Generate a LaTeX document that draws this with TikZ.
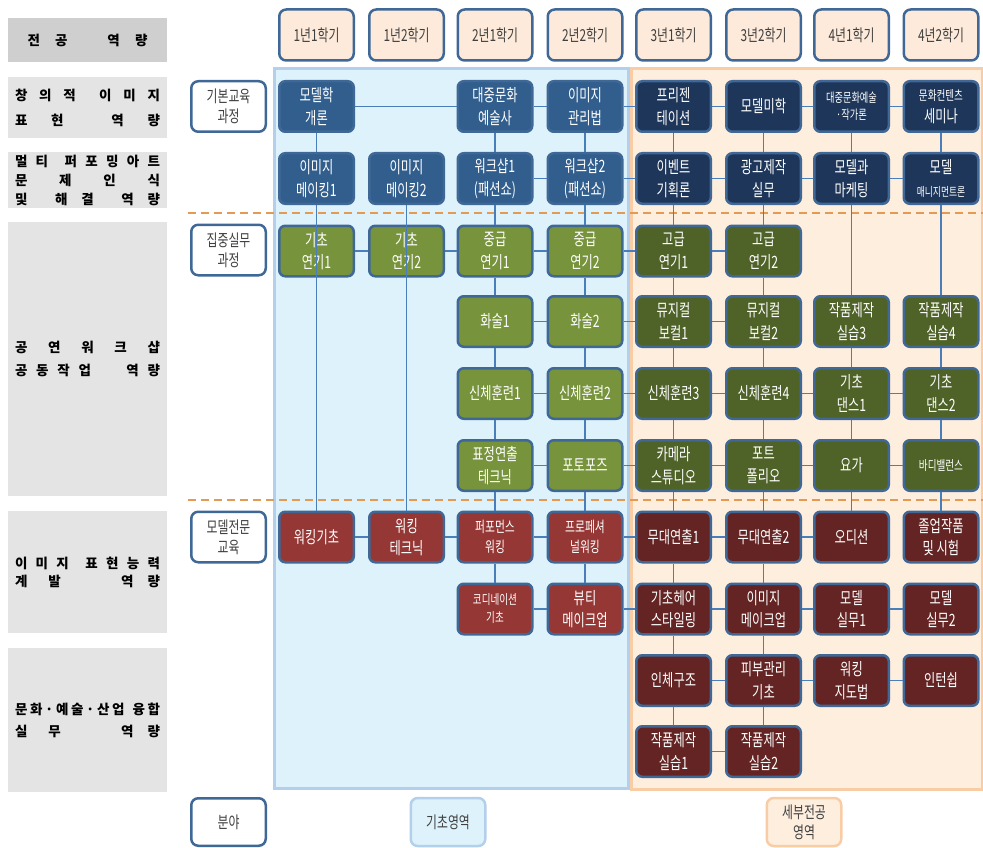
\documentclass[tikz,border=0pt]{standalone}
\usepackage{fontspec}
\setmainfont{Noto Sans CJK KR}
\newfontfamily\krnarrow[FakeStretch=0.72]{Noto Sans CJK KR}

\definecolor{navyL}{HTML}{315E8D}
\definecolor{navyR}{HTML}{1E3659}
\definecolor{oliveL}{HTML}{77933C}
\definecolor{oliveR}{HTML}{4F6228}
\definecolor{brickL}{HTML}{953735}
\definecolor{brickR}{HTML}{632423}
\definecolor{boxline}{HTML}{3F6897}
\definecolor{peach}{HTML}{FDEADA}
\definecolor{textgray}{HTML}{404040}
\definecolor{headgray}{HTML}{CFCFCF}
\definecolor{skillgray}{HTML}{E4E4E4}
\definecolor{basefill}{HTML}{DDF2FA}
\definecolor{baseline}{HTML}{B3CFEB}
\definecolor{majorfill}{HTML}{FDEEDE}
\definecolor{majorline}{HTML}{F8CDA6}
\definecolor{linkblue}{HTML}{4A7EBB}
\definecolor{dashorange}{HTML}{E39A55}

\newcommand{\gapf}[1]{\hskip 0pt plus #1fill\relax}
\newcommand{\spreadline}[2]{\makebox[#1][s]{#2}}

\begin{document}
\begin{tikzpicture}[x=1pt, y=-1pt,
  course/.style={draw=boxline, line width=2.5pt, rounded corners=6pt,
    minimum width=74.5pt, minimum height=50.5pt, inner sep=1pt, align=center,
    text=white, font=\krnarrow\fontsize{17}{22.5}\selectfont},
  blueL/.style={course, fill=navyL},
  blueR/.style={course, fill=navyR},
  greenL/.style={course, fill=oliveL},
  greenR/.style={course, fill=oliveR},
  redL/.style={course, fill=brickL},
  redR/.style={course, fill=brickR},
  term/.style={draw=boxline, line width=2.5pt, rounded corners=7pt, fill=peach,
    minimum width=74.5pt, minimum height=51pt, align=center, text=textgray,
    font=\krnarrow\fontsize{16.5}{20}\selectfont},
  track/.style={term, fill=white, minimum height=50.5pt},
  area/.style={term, minimum height=48pt},
  skill/.style={fill=skillgray, minimum width=159pt, inner sep=0pt, align=center,
    font=\bfseries\fontsize{13.5}{#1}\selectfont},
  skill/.default=20,
  link/.style={draw=linkblue, line width=1.1pt},
  divider/.style={draw=dashorange, line width=1.8pt, dash pattern=on 8pt off 5pt}]

  \fill[white] (0,0) rectangle (983,848);
  \useasboundingbox (0,0) rectangle (983,848);

  % regions
  \draw[fill=basefill, draw=baseline, line width=3pt] (274,69) rectangle (628,788);
  \draw[fill=majorfill, draw=majorline, line width=3pt] (631,69) rectangle (982,789);

  % dividers
  \draw[divider] (188,213) -- (983,213);
  \draw[divider] (188,500) -- (983,500);

  % competences
  \node[skill, fill=headgray, minimum height=44pt] (head) at (87.5,40)
    {\spreadline{120pt}{전\gapf1공\gapf{2.6}역\gapf1량}};
  \node[skill=25, minimum height=61pt] (s1) at (87.5,107.5)
    {\spreadline{145pt}{창\gapf1의\gapf1적\gapf2이\gapf1미\gapf1지}\\
     \spreadline{145pt}{표\gapf1현\gapf2역\gapf1량}};
  \node[skill=19, minimum height=56pt] (s2) at (87.5,180)
    {\spreadline{145pt}{멀\gapf1티\gapf2퍼\gapf1포\gapf1밍\gapf1아\gapf1트}\\
     \spreadline{145pt}{문\gapf1제\gapf1인\gapf1식}\\
     \spreadline{145pt}{및\gapf2해\gapf1결\gapf2역\gapf1량}};
  \node[skill=23, minimum height=274pt] (s3) at (87.5,359)
    {\spreadline{145pt}{공\gapf1연\gapf1워\gapf1크\gapf1샵}\\
     \spreadline{145pt}{공\gapf1동\gapf1작\gapf1업\gapf4역\gapf1량}};
  \node[skill=18, minimum height=122pt] (s4) at (87.5,572)
    {\spreadline{145pt}{이\gapf1미\gapf1지\gapf2표\gapf1현\gapf1능\gapf1력}\\
     \spreadline{145pt}{계\gapf{1.5}발\gapf{4.3}역\gapf1량}};
  \node[skill=22, minimum height=144pt] (s5) at (87.5,720)
    {\spreadline{145pt}{문\gapf1화\gapf1·\gapf1예\gapf1술\gapf1·\gapf1산\gapf1업\gapf3융\gapf1합}\\
     \spreadline{145pt}{실\gapf{1.5}무\gapf{4.3}역\gapf1량}};

  % semesters
  \node[term] (t1) at (316.5,35) {1년1학기};
  \node[term] (t2) at (406.5,35) {1년2학기};
  \node[term] (t3) at (495,35) {2년1학기};
  \node[term] (t4) at (585,35) {2년2학기};
  \node[term] (t5) at (673.5,35) {3년1학기};
  \node[term] (t6) at (763.5,35) {3년2학기};
  \node[term] (t7) at (851.5,35) {4년1학기};
  \node[term] (t8) at (941,35) {4년2학기};

  % tracks
  \node[track] (basic) at (228.5,106.5) {기본교육\\과정};
  \node[track] (focus) at (228.5,250) {집중실무\\과정};
  \node[track] (expert) at (228.5,537) {모델전문\\교육};
  \node[track, minimum height=47.5pt] (field) at (228.5,822) {분야};
  \node[area, fill=basefill, draw=baseline] (basearea) at (448,822) {기초영역};
  \node[area, fill=majorfill, draw=majorline] (majorarea) at (804,822) {세부전공\\영역};

  % row 1-2
  \node[blueL] (r1c1) at (316.5,106.5) {모델학\\개론};
  \node[blueL] (r1c3) at (495,106.5) {대중문화\\예술사};
  \node[blueL] (r1c4) at (585,106.5) {이미지\\관리법};
  \node[blueR] (r1c5) at (673.5,106.5) {프리젠\\테이션};
  \node[blueR] (r1c6) at (763.5,106.5) {모델미학};
  \node[blueR, font=\krnarrow\fontsize{12.8}{17}\selectfont] (r1c7) at (851.5,106.5) {대중문화예술\\·작가론};
  \node[blueR] (r1c8) at (941,106.5) {{\fontsize{13.3}{15}\selectfont 문화컨텐츠}\\세미나};
  \node[blueL] (r2c1) at (316.5,178.5) {이미지\\메이킹1};
  \node[blueL] (r2c2) at (406.5,178.5) {이미지\\메이킹2};
  \node[blueL] (r2c3) at (495,178.5) {워크샵1\\(패션쇼)};
  \node[blueL] (r2c4) at (585,178.5) {워크샵2\\(패션쇼)};
  \node[blueR] (r2c5) at (673.5,178.5) {이벤트\\기획론};
  \node[blueR] (r2c6) at (763.5,178.5) {광고제작\\실무};
  \node[blueR] (r2c7) at (851.5,178.5) {모델과\\마케팅};
  \node[blueR] (r2c8) at (941,178.5) {모델\\{\fontsize{12.2}{15}\selectfont 매니지먼트론}};

  % row 3-6
  \node[greenL] (r3c1) at (316.5,251) {기초\\연기1};
  \node[greenL] (r3c2) at (406.5,251) {기초\\연기2};
  \node[greenL] (r3c3) at (495,251) {중급\\연기1};
  \node[greenL] (r3c4) at (585,251) {중급\\연기2};
  \node[greenR] (r3c5) at (673.5,251) {고급\\연기1};
  \node[greenR] (r3c6) at (763.5,251) {고급\\연기2};
  \node[greenL] (r4c3) at (495,321.5) {화술1};
  \node[greenL] (r4c4) at (585,321.5) {화술2};
  \node[greenR] (r4c5) at (673.5,321.5) {뮤지컬\\보컬1};
  \node[greenR] (r4c6) at (763.5,321.5) {뮤지컬\\보컬2};
  \node[greenR] (r4c7) at (851.5,321.5) {작품제작\\실습3};
  \node[greenR] (r4c8) at (941,321.5) {작품제작\\실습4};
  \node[greenL] (r5c3) at (495,393.5) {신체훈련1};
  \node[greenL] (r5c4) at (585,393.5) {신체훈련2};
  \node[greenR] (r5c5) at (673.5,393.5) {신체훈련3};
  \node[greenR] (r5c6) at (763.5,393.5) {신체훈련4};
  \node[greenR] (r5c7) at (851.5,393.5) {기초\\댄스1};
  \node[greenR] (r5c8) at (941,393.5) {기초\\댄스2};
  \node[greenL] (r6c3) at (495,465.5) {표정연출\\테크닉};
  \node[greenL] (r6c4) at (585,465.5) {포토포즈};
  \node[greenR] (r6c5) at (673.5,465.5) {카메라\\스튜디오};
  \node[greenR] (r6c6) at (763.5,465.5) {포트\\폴리오};
  \node[greenR] (r6c7) at (851.5,465.5) {요가};
  \node[greenR, font=\krnarrow\fontsize{13.3}{16}\selectfont] (r6c8) at (941,465.5) {바디밸런스};

  % row 7-10
  \node[redL] (r7c1) at (316.5,537) {워킹기초};
  \node[redL] (r7c2) at (406.5,537) {워킹\\테크닉};
  \node[redL, font=\krnarrow\fontsize{15}{20}\selectfont] (r7c3) at (495,537) {퍼포먼스\\워킹};
  \node[redL, font=\krnarrow\fontsize{15}{20}\selectfont] (r7c4) at (585,537) {프로페셔\\널워킹};
  \node[redR] (r7c5) at (673.5,537) {무대연출1};
  \node[redR] (r7c6) at (763.5,537) {무대연출2};
  \node[redR] (r7c7) at (851.5,537) {오디션};
  \node[redR] (r7c8) at (941,537) {졸업작품\\및 시험};
  \node[redL, font=\krnarrow\fontsize{13.3}{18}\selectfont] (r8c3) at (495,609) {코디네이션\\기초};
  \node[redL] (r8c4) at (585,609) {뷰티\\메이크업};
  \node[redR] (r8c5) at (673.5,609) {기초헤어\\스타일링};
  \node[redR] (r8c6) at (763.5,609) {이미지\\메이크업};
  \node[redR] (r8c7) at (851.5,609) {모델\\실무1};
  \node[redR] (r8c8) at (941,609) {모델\\실무2};
  \node[redR] (r9c5) at (673.5,680.5) {인체구조};
  \node[redR] (r9c6) at (763.5,680.5) {피부관리\\기초};
  \node[redR] (r9c7) at (851.5,680.5) {워킹\\지도법};
  \node[redR] (r9c8) at (941,680.5) {인턴쉽};
  \node[redR] (r10c5) at (673.5,751.5) {작품제작\\실습1};
  \node[redR] (r10c6) at (763.5,751.5) {작품제작\\실습2};

  % rows
  \draw[link] (r1c1) -- (r1c3) -- (r1c4) -- (r1c5) -- (r1c6) -- (r1c7) -- (r1c8);
  \draw[link] (r2c3) -- (r2c4) -- (r2c5) -- (r2c6) -- (r2c7) -- (r2c8);
  \draw[link] (r3c1) -- (r3c2) -- (r3c3) -- (r3c4) -- (r3c5) -- (r3c6);
  \draw[link] (r4c3) -- (r4c4) -- (r4c5) -- (r4c6);
  \draw[link] (r5c3) -- (r5c4) -- (r5c5) -- (r5c6) -- (r5c7) -- (r5c8);
  \draw[link] (r6c3) -- (r6c4) -- (r6c5) -- (r6c6) -- (r6c7) -- (r6c8);
  \draw[link] (r7c1) -- (r7c2) -- (r7c3) -- (r7c4) -- (r7c5) -- (r7c6) -- (r7c7);
  \draw[link] (r8c3) -- (r8c4) -- (r8c5) -- (r8c6) -- (r8c7) -- (r8c8);
  \draw[link] (r9c5) -- (r9c6) -- (r9c7) -- (r9c8);
  \draw[link] (r10c5) -- (r10c6);

  % columns
  \draw[link] (r1c1) -- (r2c1) (r2c1.south) -- (r7c1.north);
  \draw[link] (r2c2.south) -- (r7c2.north);
  \draw[link] (r1c3) -- (r2c3) -- (r3c3) -- (r4c3) -- (r5c3) -- (r6c3) -- (r7c3) -- (r8c3);
  \draw[link] (r1c4) -- (r2c4) -- (r3c4) -- (r4c4) -- (r5c4) -- (r6c4) -- (r7c4) -- (r8c4);
  \draw[link] (r1c5) -- (r2c5) -- (r3c5) -- (r4c5) -- (r5c5) -- (r6c5) -- (r7c5) -- (r8c5) -- (r9c5) -- (r10c5);
  \draw[link] (r1c6) -- (r2c6) -- (r3c6) -- (r4c6) -- (r5c6) -- (r6c6) -- (r7c6) -- (r8c6) -- (r9c6) -- (r10c6);
  \draw[link] (r1c7) -- (r2c7) -- (r4c7) -- (r5c7) -- (r6c7) -- (r7c7);
  \draw[link] (r1c8) -- (r2c8) -- (r4c8) -- (r5c8) -- (r6c8) -- (r7c8);
\end{tikzpicture}
\end{document}
